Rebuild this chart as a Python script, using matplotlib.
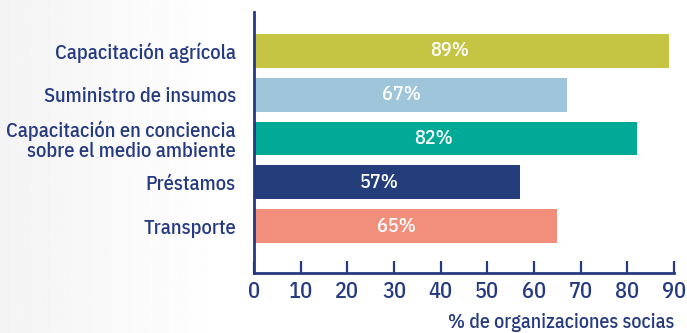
import matplotlib
matplotlib.use("Agg")
import matplotlib.pyplot as plt
import numpy as np

# Servicios ofrecidos a las organizaciones socias
categorias = [
    "Capacitación agrícola",
    "Suministro de insumos",
    "Capacitación en conciencia\nsobre el medio ambiente",
    "Préstamos",
    "Transporte",
]
porcentajes = [89, 67, 82, 57, 65]
colores = ["#c5c543", "#9ec5da", "#00aa96", "#233e7a", "#f28e7c"]
ticks_x = [0, 10, 20, 30, 40, 50, 60, 70, 80, 90]
etiqueta_x = "% de organizaciones socias"

azul = "#253a80"
plt.rcParams["font.family"] = ["IBM Plex Sans Condensed", "DejaVu Sans"]
plt.rcParams["font.weight"] = 500
plt.rcParams["axes.labelweight"] = 500

fig = plt.figure(figsize=(6.87, 3.33), dpi=100)

# fondo con un degradado muy suave a la izquierda
bg = fig.add_axes([0, 0, 1, 1], zorder=-10)
grad = np.linspace(0.955, 1.0, 256)
grad = np.clip(np.concatenate([grad, np.ones(512)]), 0, 1)
bg.imshow(np.tile(grad, (2, 1)), cmap="gray", vmin=0, vmax=1,
          aspect="auto", extent=[0, 1, 0, 1])
bg.axis("off")

ax = fig.add_axes([254 / 687, 60 / 333, 420 / 687, 261 / 333])
ax.patch.set_alpha(0)

y = np.arange(len(categorias))
ax.barh(y, porcentajes, height=0.77, color=colores)

for yi, v in zip(y, porcentajes):
    ax.text(v * 0.47, yi, f"{v}%", ha="center", va="center",
            color="white", fontsize=14.5)

ax.set_xlim(0, 90)
ax.set_ylim(len(categorias) - 1 + 1.07, -0.89)
ax.set_xticks(ticks_x)
ax.set_yticks(y)
ax.set_yticklabels(categorias, fontsize=14.7, color=azul, linespacing=1.02)

ax.tick_params(axis="x", direction="in", length=9, width=1.6, color=azul,
               labelsize=16, labelcolor=azul, pad=6)
ax.tick_params(axis="y", length=0, pad=13)

for s in ["top", "right"]:
    ax.spines[s].set_visible(False)
for s in ["left", "bottom"]:
    ax.spines[s].set_color(azul)
    ax.spines[s].set_linewidth(2)

ax.set_xlabel(etiqueta_x, fontsize=14.3, color=azul, loc="right", labelpad=7)

fig.savefig("out.png", dpi=100)
